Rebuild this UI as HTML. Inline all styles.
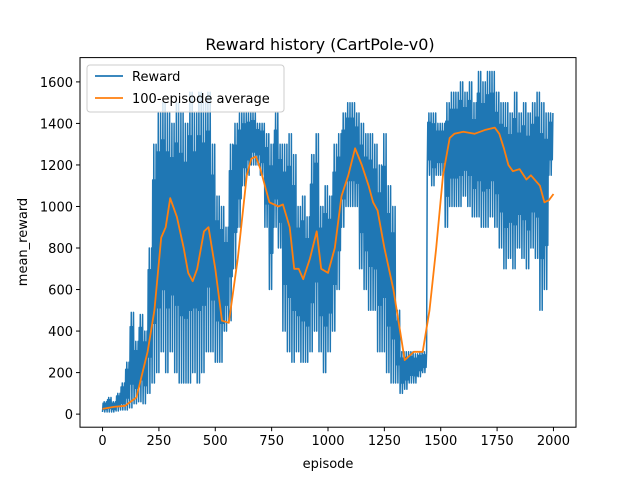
<!DOCTYPE html>
<html><head><meta charset="utf-8"><style>
body{margin:0;background:#fff}
svg{display:block;font-family:"DejaVu Sans","Liberation Sans",sans-serif}
</style></head><body>
<svg id="chart" width="640" height="480" viewBox="0 0 640 480">
<rect x="0" y="0" width="640" height="480" fill="#fff"/>
<text x="320" y="50" text-anchor="middle" font-size="16" fill="#000">Reward history (CartPole-v0)</text>
<g id="plot"></g>
<g id="axes"></g>
<text x="328" y="468" text-anchor="middle" font-size="13">episode</text>
<text x="0" y="0" transform="translate(27,242) rotate(-90)" text-anchor="middle" font-size="13">mean_reward</text>
<g>
<rect x="87" y="65" width="197" height="47" rx="3" fill="#fff" fill-opacity="0.8" stroke="#ccc"/>
<line x1="95" y1="76" x2="123" y2="76" stroke="#1f77b4" stroke-width="1.8"/>
<text x="132" y="81" font-size="13">Reward</text>
<line x1="95" y1="98" x2="123" y2="98" stroke="#ff7f0e" stroke-width="1.8"/>
<text x="132" y="103" font-size="13">100-episode average</text>
</g>
</svg>
<script>
const segStart=[0,20,40,60,80,100,120,140,160,180,200,220,240,260,280,300,320,340,360,380,400,420,440,460,480,500,520,540,560,580,600,620,640,660,680,700,720,740,760,780,800,820,840,860,880,900,920,940,960,980,1000,1020,1040,1060,1080,1100,1120,1140,1160,1180,1200,1220,1240,1260,1280,1300,1320,1340,1360,1380,1400,1420,1440,1460,1480,1500,1520,1540,1560,1580,1600,1620,1640,1660,1680,1700,1720,1740,1760,1780,1800,1820,1840,1860,1880,1900,1920,1940,1960,1980];
const rewardLow=[10,10,10,15,20,20,30,50,60,50,100,150,200,300,200,300,200,150,150,150,200,150,200,300,300,250,250,400,450,700,900,1100,1150,1200,1200,1150,900,600,900,800,400,300,250,300,250,250,300,400,300,200,300,400,600,900,1000,1000,1000,700,600,500,500,300,300,200,150,150,100,120,150,150,180,200,1150,1100,1150,1150,900,1000,1000,1000,1050,1000,950,950,900,900,950,900,800,700,750,700,800,750,700,800,750,500,600,1150];
const rewardHigh=[60,80,60,100,150,250,490,350,480,400,800,1300,1450,1500,1450,1400,1500,1450,1400,1550,1450,1550,1500,1550,1300,1050,1000,900,1300,1400,1450,1450,1450,1450,1400,1400,1350,1300,1450,1300,1300,1350,1250,1000,1050,950,1250,1350,1000,1100,1050,1300,1350,1450,1500,1500,1450,1400,1350,1350,1300,1200,1350,1100,1000,500,300,300,300,290,300,300,1450,1450,1400,1400,1500,1550,1550,1600,1550,1600,1500,1650,1600,1650,1650,1550,1500,1500,1450,1550,1450,1500,1450,1500,1550,1500,1450,1450];
const avgEpisode=[0,50,100,150,200,230,260,280,300,330,360,380,400,420,450,470,500,530,560,600,640,660,680,700,720,740,780,800,830,850,870,890,920,950,970,1000,1030,1060,1090,1120,1150,1180,1200,1220,1250,1290,1320,1340,1360,1380,1420,1450,1480,1510,1540,1560,1600,1650,1700,1740,1760,1780,1800,1820,1850,1880,1900,1940,1960,1980,2000];
const avgValue=[25,35,40,80,300,500,850,900,1040,950,800,680,640,700,880,900,700,450,440,750,1150,1230,1240,1180,1100,1020,1000,1010,900,700,700,650,750,880,700,680,800,1050,1150,1280,1200,1100,1020,980,800,600,400,260,280,300,300,500,800,1150,1330,1350,1360,1350,1370,1380,1350,1280,1200,1170,1180,1130,1150,1100,1020,1030,1060];
const xTicks=[0,250,500,750,1000,1250,1500,1750,2000];
const yTicks=[0,200,400,600,800,1000,1200,1400,1600];

const L=80,R=576,T=57.6,B=427.2;
const xMin=-100,xMax=2100,yMin=-63,yMax=1717;
const sx=v=>L+(v-xMin)/(xMax-xMin)*(R-L);
const sy=v=>B-(v-yMin)/(yMax-yMin)*(B-T);
const NS='http://www.w3.org/2000/svg';
const plot=document.getElementById('plot'),axes=document.getElementById('axes');
function mk(t,a,p){const e=document.createElementNS(NS,t);for(const k in a)e.setAttribute(k,a[k]);p.appendChild(e);return e;}

// reward line: oscillate between low and high within each 20-episode segment
let d='';
for(let i=0;i<segStart.length;i++){
  const x0=segStart[i],w=20,n=4;
  for(let j=0;j<n;j++){
    const xa=x0+w*j/n,xb=x0+w*(j+0.5)/n;
    const lo=rewardLow[i]+(j%2)*(rewardHigh[i]-rewardLow[i])*0.25;
    const hi=rewardHigh[i]-((j+1)%2)*(rewardHigh[i]-rewardLow[i])*0.15;
    d+=(d?'L':'M')+sx(xa).toFixed(1)+','+sy(lo).toFixed(1)+'L'+sx(xb).toFixed(1)+','+sy(hi).toFixed(1);
  }
}
const rl=mk('path',{d:d,fill:'none',stroke:'#1f77b4','stroke-width':1.5,'stroke-linejoin':'round'},plot);



let d2='';
avgEpisode.forEach((e,i)=>{d2+=(i?'L':'M')+sx(e).toFixed(1)+','+sy(avgValue[i]).toFixed(1);});
const al=mk('path',{d:d2,fill:'none',stroke:'#ff7f0e','stroke-width':1.8,'stroke-linejoin':'round'},plot);



const frame=mk('rect',{x:L,y:T,width:R-L,height:B-T,fill:'none',stroke:'#000','stroke-width':1},axes);



xTicks.forEach(v=>{
  const x=sx(v);
  const tk=mk('line',{x1:x,y1:B,x2:x,y2:B+4,stroke:'#000'},axes);
  
  
  const t=mk('text',{x:x,y:B+18,'text-anchor':'middle','font-size':13},axes);
  t.textContent=v;
  
  
});
yTicks.forEach(v=>{
  const y=sy(v);
  const tk=mk('line',{x1:L-4,y1:y,x2:L,y2:y,stroke:'#000'},axes);
  
  
  const t=mk('text',{x:L-7,y:y+5,'text-anchor':'end','font-size':13},axes);
  t.textContent=v;
  
  
});
</script>
</body></html>
